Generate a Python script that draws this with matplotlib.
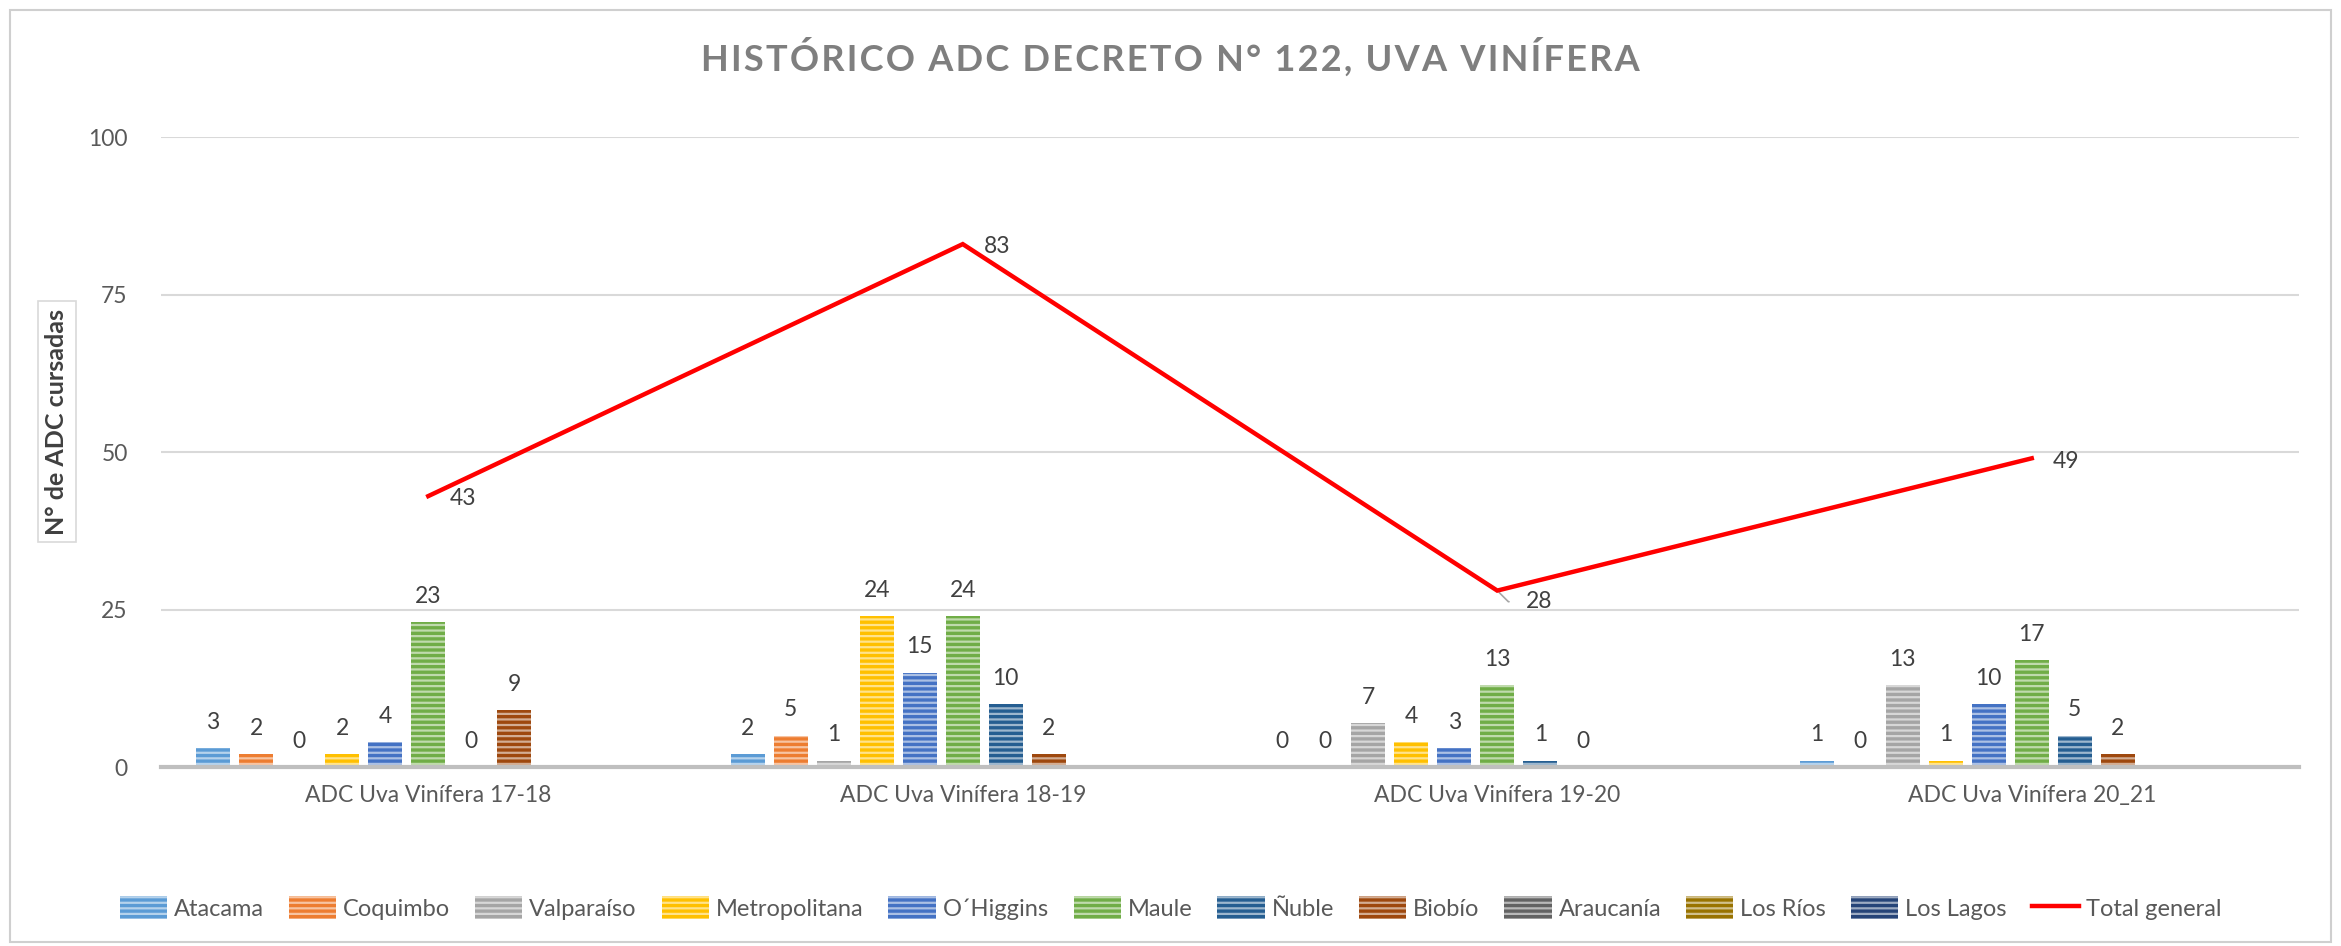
import numpy as np
import matplotlib
matplotlib.use("Agg")
import matplotlib.pyplot as plt
from matplotlib.patches import Rectangle
from matplotlib.colors import to_rgb

plt.rcParams['font.family'] = ['Lato', 'DejaVu Sans']
plt.rcParams['hatch.linewidth'] = 1.6

categories = ["ADC Uva Vinífera 17-18", "ADC Uva Vinífera 18-19",
              "ADC Uva Vinífera 19-20", "ADC Uva Vinífera 20_21"]
regions = ["Atacama", "Coquimbo", "Valparaíso", "Metropolitana", "O´Higgins",
           "Maule", "Ñuble", "Biobío", "Araucanía", "Los Ríos", "Los Lagos"]
nan = np.nan
atacama = [3, 2, 0, 1]
coquimbo = [2, 5, 0, 0]
valparaiso = [0, 1, 7, 13]
metropolitana = [2, 24, 4, 1]
ohiggins = [4, 15, 3, 10]
maule = [23, 24, 13, 17]
nuble = [0, 10, 1, 5]
biobio = [9, 2, 0, 2]
araucania = [nan, nan, nan, nan]
los_rios = [nan, nan, nan, nan]
los_lagos = [nan, nan, nan, nan]
total_general = [43, 83, 28, 49]
series = [atacama, coquimbo, valparaiso, metropolitana, ohiggins, maule,
          nuble, biobio, araucania, los_rios, los_lagos]
colors = ["#5B9BD5", "#ED7D31", "#A5A5A5", "#FFC000", "#4472C4", "#70AD47",
          "#255E91", "#9E480E", "#636363", "#997300", "#264478"]
yticks = [0, 25, 50, 75, 100]

W, H = 2341, 946
fig = plt.figure(figsize=(W / 100, H / 100), dpi=100)
ax = fig.add_axes([161 / W, 1 - 767 / H, (2299 - 161) / W, (767 - 137) / H])

def lighten(c, f=0.55):
    r, g, b = to_rgb(c)
    return (r + (1 - r) * f, g + (1 - g) * f, b + (1 - b) * f)

FS = 16.5
x = np.arange(len(categories))
slot = 0.0805
bw = 0.064
n = len(series)
label_color = "#404040"
for i, (name, vals, col) in enumerate(zip(regions, series, colors)):
    xs = x + (i - (n - 1) / 2) * slot
    v = np.array(vals, dtype=float)
    ax.bar(xs, v, width=bw, color=col, edgecolor=lighten(col), hatch='---',
           linewidth=0, label=name, zorder=3)
    for xi, vi in zip(xs, v):
        if np.isnan(vi):
            continue
        ax.annotate(f"{int(vi)}", (xi, vi), xytext=(0, 11), textcoords='offset points',
                    ha='center', va='bottom', fontsize=FS, color=label_color)

ax.plot(x, total_general, color="#FF0000", lw=3.2, label="Total general", zorder=4,
        solid_joinstyle='miter')
for i, (xi, vi) in enumerate(zip(x, total_general)):
    if i == 2:
        ax.annotate(f"{vi}", (xi, vi), xytext=(30, -8), textcoords='offset points',
                    ha='center', va='center', fontsize=FS, color=label_color,
                    arrowprops=dict(arrowstyle='-', color='#A6A6A6', lw=1.2,
                                    connectionstyle='angle,angleA=0,angleB=-45,rad=0',
                                    shrinkA=10, shrinkB=2))
    else:
        ax.annotate(f"{vi}", (xi, vi), xytext=(25, -2), textcoords='offset points',
                    ha='center', va='center', fontsize=FS, color=label_color)

ax.set_xlim(-0.5, len(categories) - 0.5)
ax.set_ylim(0, 100)
ax.set_yticks(yticks)
ax.set_yticklabels([str(t) for t in yticks])
ax.set_xticks(x)
ax.set_xticklabels(categories)
ax.tick_params(axis='both', length=0, labelsize=FS, colors="#595959")
ax.tick_params(axis='y', pad=24)
ax.tick_params(axis='x', pad=13)
ax.grid(axis='y', color="#D9D9D9", lw=1.5, zorder=0)
ax.set_axisbelow(True)
for s in ['top', 'right', 'left']:
    ax.spines[s].set_visible(False)
ax.spines['bottom'].set_color("#BFBFBF")
ax.spines['bottom'].set_linewidth(3)
ax.spines['bottom'].set_zorder(5)

ax.set_ylabel("N° de ADC cursadas", fontsize=18, fontweight='bold', color="#404040",
              bbox=dict(boxstyle='square,pad=0.3', fc='white', ec='#D9D9D9', lw=1.2))
ax.yaxis.set_label_coords(-0.0433, 0.548)

title = "HISTÓRICO ADC DECRETO N° 122, UVA VINÍFERA"
spaced = "\u200a".join(title)
fig.text(0.5, 1 - 57 / H, spaced, ha='center', va='center', fontsize=26,
         fontweight='bold', color="#7F7F7F")

handles, labels = ax.get_legend_handles_labels()
order = list(range(1, len(handles))) + [0]
handles = [handles[k] for k in order]
labels = [labels[k] for k in order]
fig.legend(handles, labels, loc='center', bbox_to_anchor=(0.5, 1 - 908 / H),
           ncol=12, frameon=False, fontsize=17, labelcolor="#595959",
           handlelength=2.0, handleheight=1.1, handletextpad=0.3, columnspacing=1.05)

fig.patches.append(Rectangle((10 / W, 4 / H), (W - 20) / W, (H - 14) / H,
                             transform=fig.transFigure, fill=False,
                             edgecolor="#CFCFCF", lw=1.5))

fig.savefig("out.png", dpi=100)
